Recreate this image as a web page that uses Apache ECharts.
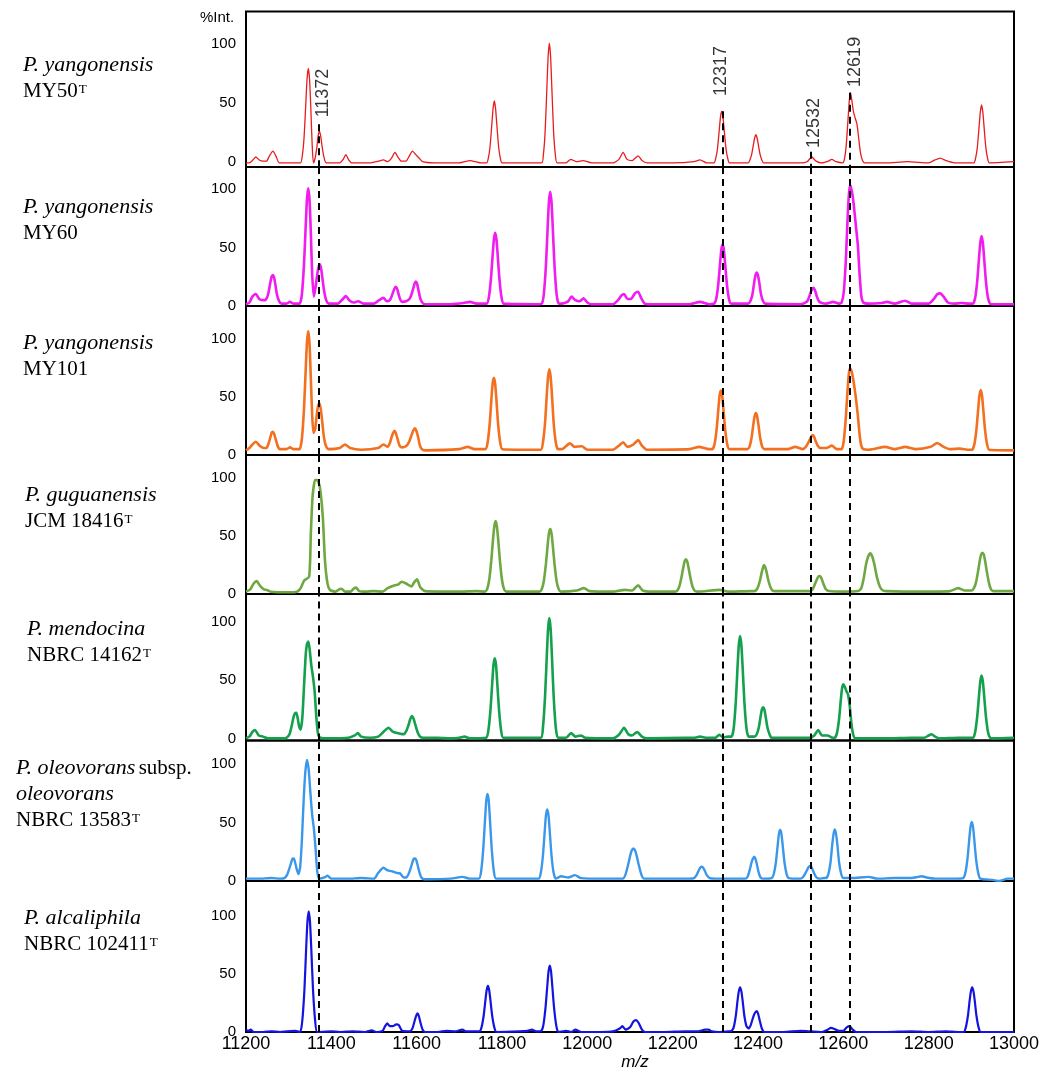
<!DOCTYPE html>
<html><head><meta charset="utf-8">
<script src="https://cdn.jsdelivr.net/npm/echarts@6/dist/echarts.min.js"></script>
<style>html,body{margin:0;padding:0;background:#fff}#c{width:1055px;height:1082px}</style>
</head><body><div id="c"></div>
<script>
// ---------- data ----------
const xTicks = [11200, 11400, 11600, 11800, 12000, 12200, 12400, 12600, 12800, 13000];
const yTicks = [0, 50, 100];
const markerX = [11370, 12317, 12523, 12615];
const markerText = ['11372', '12317', '12532', '12619'];
const markerTextY = [58.5, 77.3, 33, 85];
const markerStartY = [32, 43, 8.5, 58.8];

const strainNames = [
  ['P. yangonensis', 'MY50', 'T'],
  ['P. yangonensis', 'MY60', ''],
  ['P. yangonensis', 'MY101', ''],
  ['P. guguanensis', 'JCM 18416', 'T'],
  ['P. mendocina', 'NBRC 14162', 'T'],
  ['P. oleovorans', 'subsp.', 'oleovorans', 'NBRC 13583', 'T'],
  ['P. alcaliphila', 'NBRC 102411', 'T']
];

const specMY50 = [[11200,-1],[11208,-1],[11215,1],[11223,4],[11231,1.5],[11240,0.5],[11248,0.5],[11255,5],[11263,9],[11270,5],[11278,-1],[11300,-1],[11318,-1],[11328,-1],[11332,5],[11336,20],[11340,48],[11343,70],[11346,79.5],[11349,70],[11352,45],[11355,15],[11358,-1],[11362,3],[11366,12],[11369,22],[11372,26],[11375,22],[11378,14],[11382,5],[11388,-1],[11420,-1],[11428,2],[11434,6],[11440,2],[11448,-1],[11490,-1],[11510,0.5],[11522,1.5],[11532,0],[11541,3],[11549,8],[11556,4],[11564,0.5],[11575,0.5],[11583,5],[11590,9],[11598,6],[11606,3],[11614,0],[11640,-1],[11700,-1],[11725,1],[11750,-1],[11764,-1],[11768,3],[11772,13],[11776,31],[11779,45],[11782,51.7],[11785,45],[11788,31],[11792,13],[11796,3],[11800,-1],[11893,-1],[11897,6],[11901,25],[11905,61],[11908,89],[11911,101],[11914,89],[11917,61],[11921,25],[11925,6],[11929,-1],[11950,-1],[11961,2],[11975,0],[11990,1],[12010,-1],[12060,-1],[12074,2],[12084,8],[12093,2],[12105,1],[12119,5],[12128,1],[12140,-1],[12200,-1],[12250,0],[12264,1.5],[12280,-1],[12297,-1],[12301,3],[12305,11],[12309,26],[12312,38],[12315,43],[12318,38],[12321,26],[12325,11],[12329,3],[12333,-1],[12377,-1],[12381,1.5],[12385,6],[12389,14],[12392,20],[12395,23],[12398,20],[12401,14],[12405,6],[12409,1.5],[12413,-1],[12500,-1],[12515,0],[12526,4],[12536,0.5],[12550,-1],[12565,0.5],[12573,2],[12583,0],[12599,-1],[12603,3],[12607,15],[12611,36],[12614,52],[12617,58.8],[12620,52],[12624,42],[12628,37],[12632,32],[12636,20],[12640,8],[12645,1],[12650,-1],[12700,-1],[12750,0],[12800,-1],[12815,1.5],[12827,3],[12840,1],[12860,-1],[12906,-1],[12910,3],[12914,12],[12918,29],[12921,42],[12924,48.3],[12927,42],[12930,29],[12934,12],[12938,3],[12942,-1],[13000,0]];

const specMY60 = [[11200,1.5],[11208,3],[11215,8],[11223,10.3],[11231,6],[11240,5],[11245,5],[11250,8],[11253,12],[11257,20],[11260,25],[11263,26.5],[11266,24],[11269,18],[11273,9],[11278,4],[11283,2],[11295,2],[11303,3.5],[11312,2],[11322,2],[11326,2],[11331,10],[11336,36],[11340,69],[11343,92],[11346,100.6],[11349,90],[11352,62],[11355,28],[11359,8],[11363,16],[11367,27],[11370,33],[11373,35.6],[11376,32],[11379,24],[11383,13],[11388,5],[11394,2],[11415,2],[11427,6],[11434,8.5],[11442,5],[11452,3],[11463,4],[11475,2],[11500,2],[11512,5],[11522,7],[11530,4],[11537,5],[11541,8],[11545,12],[11548,15],[11551,16.5],[11554,15],[11557,11],[11561,6],[11566,3.5],[11575,4],[11583,6],[11588,10],[11592,15],[11595,19],[11598,20.8],[11601,19],[11604,14],[11608,7],[11613,3],[11620,1.5],[11680,1.5],[11710,2.5],[11725,3.5],[11740,2],[11764,2],[11769,7],[11774,23],[11778,43],[11781,57],[11784,62.6],[11787,57],[11790,43],[11794,23],[11799,7],[11804,2],[11880,1.5],[11893,2],[11898,10],[11903,35],[11907,67],[11910,89],[11913,97.7],[11916,89],[11919,67],[11923,35],[11928,10],[11933,2],[11940,2],[11955,4],[11963,8],[11972,5],[11982,4],[11991,6.5],[12000,3],[12010,1.5],[12060,1.5],[12072,5],[12080,9],[12086,10.3],[12094,6],[12102,6],[12112,11],[12119,12.2],[12126,7],[12135,2],[12160,1.5],[12240,1.5],[12264,3.5],[12285,1.5],[12297,2],[12302,6],[12307,19],[12311,36],[12314,48],[12317,52.7],[12320,48],[12323,36],[12327,19],[12332,6],[12337,2],[12377,2],[12382,4],[12387,10],[12391,20],[12394,26],[12397,28.5],[12400,26],[12403,20],[12407,10],[12412,4],[12417,2],[12500,1.5],[12512,3],[12517,5],[12521,9],[12525,13],[12530,15.6],[12534,13],[12538,8],[12543,4],[12550,2.5],[12560,2],[12576,3.5],[12590,2],[12596,3],[12601,12],[12606,40],[12610,75],[12613,95],[12616,103.4],[12620,98],[12624,88],[12629,70],[12634,52],[12638,28],[12642,9],[12647,3],[12660,2],[12690,2.5],[12702,3.5],[12720,2],[12745,4.5],[12760,2],[12800,2],[12812,6],[12820,10],[12827,10.8],[12835,8],[12845,3],[12860,2],[12877,2.5],[12895,2],[12904,2],[12909,7],[12914,22],[12918,41],[12921,54],[12924,59.8],[12927,54],[12930,41],[12934,22],[12939,7],[12944,2],[12950,1.5],[13000,1.5]];

const specMY101 = [[11200,4],[11208,6],[11215,9],[11223,11.4],[11232,8],[11242,6],[11248,6],[11253,10],[11257,15],[11260,19],[11263,20],[11266,18],[11270,13],[11275,7],[11280,5],[11295,5],[11303,6.5],[11312,5],[11322,5],[11326,5],[11331,14],[11336,40],[11340,74],[11343,97],[11346,106.3],[11349,95],[11352,65],[11355,35],[11358,19],[11362,22],[11366,35],[11369,42],[11372,44.3],[11375,40],[11378,31],[11382,17],[11387,8],[11393,5],[11420,6],[11432,9],[11444,6],[11470,4.5],[11510,6],[11522,9],[11532,7],[11537,10],[11541,15],[11545,19],[11548,20.8],[11551,19],[11555,14],[11560,8],[11565,6.5],[11575,7.5],[11582,11],[11587,16],[11592,21],[11596,23],[11599,21],[11603,16],[11607,9],[11612,5],[11620,4],[11700,5],[11720,7],[11735,5],[11761,5],[11766,10],[11771,26],[11775,47],[11778,61],[11781,66.3],[11784,61],[11787,47],[11791,26],[11796,10],[11801,5],[11891,4.5],[11896,11],[11901,28],[11905,52],[11908,67],[11911,73.5],[11914,67],[11917,52],[11921,28],[11926,11],[11931,5],[11940,5],[11959,10],[11970,7],[11987,7.5],[12000,4.5],[12060,4.5],[12074,8],[12084,11],[12094,7],[12108,9],[12119,12.9],[12128,8],[12140,4.5],[12240,5],[12262,7],[12285,5],[12293,5],[12298,9],[12303,22],[12307,39],[12310,51],[12313,55.2],[12316,51],[12319,39],[12323,22],[12328,9],[12333,5],[12375,5],[12380,7],[12385,15],[12389,26],[12392,33],[12395,35.9],[12398,33],[12401,26],[12405,15],[12410,7],[12415,5],[12470,5],[12487,7],[12505,5],[12512,7],[12517,10],[12521,13],[12525,16],[12528,17.2],[12531,16],[12535,12],[12540,8],[12546,6],[12560,6],[12573,8],[12585,5],[12596,5],[12601,12],[12606,33],[12610,56],[12613,70],[12616,74.4],[12620,71],[12624,63],[12629,50],[12634,34],[12638,18],[12642,8],[12647,5],[12660,4.5],[12698,7],[12720,5],[12745,7],[12770,5],[12805,7],[12820,10.3],[12835,7],[12850,5],[12873,5.5],[12895,4.5],[12902,4.5],[12907,9],[12912,22],[12916,39],[12919,51],[12922,55.7],[12925,51],[12928,39],[12932,22],[12937,9],[12942,4.5],[13000,4]];

const specJCM18416 = [[11200,2],[11210,4],[11218,9],[11225,11],[11233,7],[11242,4],[11249,3.5],[11258,2],[11300,1.5],[11319,2],[11328,5],[11336,11.4],[11348,14.9],[11352,52],[11356,83.4],[11362,97.8],[11367,97.8],[11373,92],[11380,66.3],[11385,29],[11391,9],[11397,3.4],[11410,2],[11418,4],[11424,4.5],[11432,2],[11445,2],[11452,4.5],[11458,5.5],[11465,2.5],[11480,2],[11498,2.5],[11520,2],[11532,5],[11549,7.5],[11556,8],[11565,10.5],[11575,9],[11588,6.5],[11594,10],[11601,12.6],[11608,6],[11620,2.5],[11700,2],[11740,2.5],[11760,2],[11765,4],[11770,12],[11775,29],[11779,47],[11782,58],[11785,62.6],[11788,58],[11791,47],[11795,29],[11800,12],[11805,4],[11810,2],[11825,2],[11888,2],[11893,4],[11898,11],[11903,26],[11907,42],[11910,52],[11913,55.7],[11916,52],[11919,42],[11923,26],[11928,11],[11933,4],[11938,2],[11975,3],[11992,5],[12005,2.5],[12060,2],[12088,3.5],[12105,3],[12119,7.5],[12130,3],[12150,2],[12195,2],[12206,2],[12211,3],[12216,7],[12221,15],[12225,23],[12228,28],[12231,29.8],[12234,28],[12237,23],[12241,15],[12246,7],[12251,3],[12258,2],[12311,3.5],[12330,2],[12385,2.5],[12390,2.5],[12395,3],[12400,6],[12405,12],[12409,19],[12412,23],[12414,24.9],[12417,23],[12420,19],[12424,12],[12429,6],[12434,3],[12440,2.5],[12510,2.5],[12522,2.5],[12528,4],[12534,9],[12540,14],[12544,15.4],[12548,14],[12553,9],[12559,4],[12566,2.5],[12600,2],[12635,2.5],[12642,5],[12648,14],[12653,25],[12658,32],[12663,34.9],[12668,32],[12673,25],[12679,14],[12686,6],[12693,3],[12700,2.5],[12780,2],[12850,2.5],[12869,5],[12885,3],[12901,3],[12906,5],[12911,10],[12916,20],[12920,29],[12923,34],[12926,35.4],[12929,34],[12932,29],[12936,20],[12941,10],[12946,4],[12952,2.5],[13000,2.5]];

const specNBRC14162 = [[11200,0.5],[11208,2],[11215,6],[11221,7.7],[11230,3],[11240,2],[11252,0.5],[11290,0.5],[11295,1],[11302,4],[11307,11],[11311,18],[11315,22],[11318,22.4],[11321,18],[11325,10],[11328,8],[11332,18],[11336,45],[11340,72],[11343,81],[11346,83],[11349,77],[11353,63],[11357,53],[11361,40],[11365,18],[11369,4],[11374,1],[11400,0.5],[11440,1],[11455,3],[11462,5],[11470,2],[11490,1],[11510,2],[11522,6],[11534,9.6],[11545,6],[11559,4.7],[11570,4],[11576,7],[11581,12],[11585,17],[11589,19.6],[11593,17],[11597,12],[11602,6],[11608,2],[11615,1],[11650,1],[11680,0.5],[11700,1],[11712,2],[11725,0.5],[11763,1],[11768,7],[11773,25],[11777,47],[11780,63],[11783,68.8],[11786,63],[11789,47],[11793,25],[11798,7],[11803,1],[11891,1],[11896,10],[11901,37],[11905,71],[11908,94],[11911,103],[11914,94],[11917,71],[11921,37],[11926,10],[11931,1],[11950,1],[11962,5],[11972,2],[11985,3],[11995,1],[12060,0.5],[12075,4],[12086,9.6],[12096,4],[12105,3],[12117,6],[12128,2],[12140,0.5],[12230,1],[12250,1],[12264,2],[12280,1],[12300,1],[12309,3.5],[12318,1.5],[12330,2],[12338,2],[12343,9],[12348,32],[12352,61],[12355,80],[12358,87.8],[12361,80],[12364,61],[12368,32],[12373,9],[12378,2],[12392,2],[12397,4],[12402,10],[12406,19],[12409,25],[12412,27],[12415,25],[12418,19],[12422,10],[12427,4],[12432,1],[12483,1],[12520,1],[12532,3],[12541,7.7],[12550,3],[12563,3],[12575,1],[12580,1],[12585,5],[12590,17],[12594,33],[12597,43],[12600,46.6],[12603,45],[12607,41],[12611,38],[12615,28],[12619,13],[12623,4],[12628,0.5],[12700,0.5],[12760,1],[12790,1],[12800,3],[12807,4],[12815,2],[12825,0.5],[12870,1],[12904,1],[12909,6],[12914,20],[12918,37],[12921,49],[12924,54],[12927,49],[12930,37],[12934,20],[12939,6],[12944,1],[12950,0.5],[13000,1]];

const specNBRC13583 = [[11200,2],[11230,2],[11260,2.5],[11280,2],[11290,2.5],[11296,5],[11301,10],[11306,16],[11309,19],[11312,19.3],[11315,16],[11319,10],[11323,6],[11327,12],[11331,35],[11335,68],[11339,93],[11343,103.4],[11347,95],[11351,75],[11355,57],[11359,45],[11363,28],[11367,8],[11372,2],[11384,3],[11391,4.5],[11400,2],[11440,2],[11470,2.5],[11500,2],[11510,7],[11522,11.3],[11532,9],[11541,8.5],[11552,7],[11561,6.5],[11570,3],[11576,3],[11581,6],[11586,11],[11590,16],[11593,19],[11596,19.3],[11599,18],[11602,14],[11606,8],[11611,3],[11618,1.5],[11680,2],[11707,3.5],[11725,2],[11746,2],[11751,8],[11756,27],[11760,51],[11763,68],[11766,74.3],[11769,68],[11772,51],[11776,27],[11781,8],[11786,2],[11870,2],[11886,2],[11891,7],[11896,22],[11900,42],[11903,56],[11906,61.2],[11909,56],[11912,42],[11916,22],[11921,7],[11926,2],[11939,4],[11955,3],[11971,5],[11985,2.5],[12040,2],[12070,2],[12083,2],[12089,5],[12095,13],[12100,21],[12104,26],[12108,27.9],[12112,26],[12116,21],[12121,13],[12127,5],[12133,2],[12150,2],[12240,2],[12250,2.5],[12256,5],[12261,9],[12265,11.5],[12268,12.2],[12271,11.5],[12275,9],[12280,5],[12287,2.5],[12300,2],[12360,2],[12371,2],[12376,4],[12381,10],[12385,16],[12388,19],[12391,20.7],[12394,19],[12397,15],[12401,8],[12406,3],[12412,2],[12432,2.5],[12437,6],[12442,16],[12446,30],[12449,40],[12452,43.5],[12455,40],[12458,30],[12462,16],[12467,6],[12472,2.5],[12500,2],[12507,4],[12513,8],[12518,11.5],[12522,12.8],[12526,11.5],[12531,7],[12537,3],[12545,2],[12555,2.5],[12560,2.5],[12565,6],[12570,16],[12574,31],[12577,40],[12580,44.1],[12583,40],[12586,31],[12590,16],[12595,6],[12600,2.5],[12620,2.5],[12659,3.5],[12680,2],[12720,2.5],[12760,2.5],[12775,3.5],[12784,4],[12795,3],[12815,2],[12860,2],[12881,2.5],[12886,7],[12891,19],[12895,35],[12898,46],[12901,50.5],[12904,46],[12907,35],[12911,19],[12916,7],[12921,2],[12950,1],[12965,0],[12985,2],[13000,2]];

const specNBRC102411 = [[11200,2],[11205,1],[11211,2],[11218,0],[11240,0],[11260,0.5],[11280,0],[11295,0.5],[11315,1],[11327,0],[11332,10],[11337,37],[11341,72],[11344,95],[11347,104],[11350,95],[11353,72],[11357,37],[11362,10],[11367,0],[11400,0.5],[11420,0],[11450,0.5],[11480,0],[11495,1.5],[11505,0],[11520,1],[11526,5],[11531,7.5],[11537,5],[11544,5],[11552,6.5],[11558,6],[11566,1],[11584,0.5],[11590,3],[11594,8],[11598,13],[11602,16],[11605,14],[11609,8],[11614,2],[11620,0],[11650,0],[11670,1],[11690,0.5],[11707,2],[11715,0.5],[11747,0.5],[11752,4],[11757,14],[11761,27],[11764,36],[11767,39.7],[11770,36],[11773,27],[11777,14],[11782,4],[11787,0],[11840,0.5],[11860,1],[11870,2],[11880,0.5],[11892,1],[11897,6],[11902,21],[11906,39],[11909,52],[11912,57.2],[11915,52],[11918,39],[11922,21],[11927,6],[11932,0],[11950,1],[11962,0],[11972,2],[11985,0],[12030,0],[12060,0.5],[12076,3],[12082,5],[12090,2],[12100,4],[12108,9],[12114,10.3],[12120,8],[12128,2],[12136,0],[12180,0],[12230,0.5],[12260,0.5],[12276,2],[12284,2],[12292,0.5],[12310,0],[12330,0.5],[12338,1],[12343,4],[12348,14],[12352,27],[12355,35],[12358,38.5],[12361,35],[12364,27],[12368,14],[12373,5],[12378,3],[12383,6],[12388,12],[12392,16],[12397,18],[12400,16],[12404,10],[12409,3],[12415,0],[12460,0],[12500,1],[12520,0.5],[12550,0],[12563,2],[12571,3.5],[12580,2.5],[12590,1],[12600,1],[12608,4],[12615,5],[12622,2],[12630,0],[12700,0],[12760,0.5],[12800,0],[12840,0.5],[12870,0],[12882,0],[12887,4],[12892,14],[12896,27],[12899,35],[12902,38.5],[12905,35],[12908,27],[12912,14],[12917,4],[12922,0],[12960,0],[13000,0]];

const spectra = [specMY50, specMY60, specMY101, specJCM18416, specNBRC14162, specNBRC13583, specNBRC102411];

// ---------- layout / style ----------
const panels = [
  { top: 11.5, bottom: 167,   yMin: -4.5, yMax: 127.9, color: '#e81c1c', width: 1.3 },
  { top: 167,  bottom: 306,   yMin: 0,    yMax: 118.8, color: '#f01cf0', width: 2.6 },
  { top: 306,  bottom: 455,   yMin: 0,    yMax: 127.8, color: '#f27020', width: 2.6 },
  { top: 455,  bottom: 594,   yMin: 0,    yMax: 119.2, color: '#6fa843', width: 2.6 },
  { top: 594,  bottom: 740.5, yMin: -1.3, yMax: 123.6, color: '#14a04c', width: 2.6 },
  { top: 740.5,bottom: 881,   yMin: 0,    yMax: 120,   color: '#3a97ea', width: 2.4 },
  { top: 881,  bottom: 1032,  yMin: 0,    yMax: 130.2, color: '#1414e0', width: 2.2 }
];
const labelPos = [[23,54],[23,196],[23,332],[25,484],[27,618],[16,757],[24,907]];
// label offsets are in the rotated text frame: [along text, across text]
const markerLabelOffset = [[0,4],[0,-2],[0,4],[0,5]];

const chart = echarts.init(document.getElementById('c'), null, { renderer: 'canvas' });
const SANS = 'Liberation Sans, Arial, sans-serif';
const SERIF = 'Liberation Serif, Times New Roman, serif';
const dash = { type: [7, 5], color: '#000', width: 2 };

const grid = [], xAxis = [], yAxis = [], series = [];
panels.forEach((p, i) => {
  grid.push({ left: 246, right: 1055 - 1014, top: p.top, height: p.bottom - p.top,
    show: true, borderColor: '#000', borderWidth: 2, backgroundColor: 'transparent', outerBoundsMode: 'none' });
  const last = i === panels.length - 1;
  xAxis.push({ type: 'value', gridIndex: i, min: xTicks[0], max: xTicks[xTicks.length - 1], interval: 200,
    axisLine: { show: false }, axisTick: { show: false }, splitLine: { show: false },
    axisLabel: { show: last, fontSize: 18, fontFamily: SANS, color: '#000', margin: 3,
      showMinLabel: true, showMaxLabel: true, formatter: v => String(v) },
    name: last ? 'm/z' : '', nameLocation: 'middle', nameGap: 15,
    nameTextStyle: { fontSize: 17, fontStyle: 'italic', fontFamily: SANS, color: '#000', padding: [0, 0, 0, 10] } });
  yAxis.push({ type: 'value', gridIndex: i, min: p.yMin, max: p.yMax,
    axisLine: { show: false }, axisTick: { show: false }, splitLine: { show: false },
    axisLabel: { customValues: yTicks, fontSize: 15, fontFamily: SANS, color: '#000', margin: 10 } });
  const ml = i === 0
    ? markerX.map((x, k) => [{ coord: [x, markerStartY[k]] }, { coord: [x, p.yMin] }])
    : markerX.map(x => ({ xAxis: x }));
  series.push({ type: 'line', xAxisIndex: i, yAxisIndex: i, data: spectra[i], showSymbol: false,
    smooth: 0.2, lineStyle: { color: p.color, width: p.width }, itemStyle: { color: p.color },
    z: 2, silent: true,
    markLine: { silent: true, symbol: ['none', 'none'], label: { show: false }, lineStyle: dash, data: ml, z: 3 } });
});
series.push({ type: 'scatter', xAxisIndex: 0, yAxisIndex: 0, symbolSize: 0, silent: true, z: 5,
  data: markerX.map((x, k) => ({ value: [x, markerTextY[k], markerText[k]],
    label: { offset: markerLabelOffset[k] } })),
  label: { show: true, position: 'inside', rotate: 90, fontSize: 18, fontFamily: SANS, color: '#000',
    formatter: p => p.value[2] } });

const rich = {
  i: { fontFamily: SERIF, fontStyle: 'italic', fontSize: 22, lineHeight: 26, fill: '#000' },
  n: { fontFamily: SERIF, fontSize: 21, lineHeight: 26, fill: '#000' },
  s: { fontFamily: SERIF, fontSize: 13, lineHeight: 14, verticalAlign: 'top', padding: [5, 0, 0, 1], fill: '#000' }
};
function strainRich(a) {
  if (a.length === 5) return '{i|' + a[0] + '} {n|' + a[1] + '}\n{i|' + a[2] + '}\n{n|' + a[3] + '}{s|' + a[4] + '}';
  return '{i|' + a[0] + '}\n{n|' + a[1] + '}' + (a[2] ? '{s|' + a[2] + '}' : '');
}
const graphic = strainNames.map((a, i) => ({ type: 'text', left: labelPos[i][0], top: labelPos[i][1],
  style: { text: strainRich(a), rich: rich, fill: '#000' } }));
graphic.push({ type: 'text', left: 200, top: 10, style: { text: '%Int.', font: '15px ' + SANS, fill: '#000' } });

chart.setOption({ animation: false, backgroundColor: '#fff', grid, xAxis, yAxis, series, graphic });
</script></body></html>
